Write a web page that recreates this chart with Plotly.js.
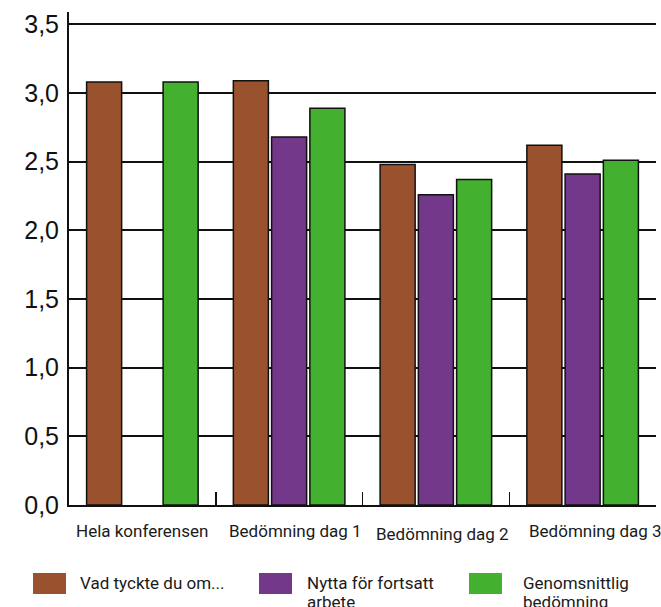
<!DOCTYPE html>
<html>
<head>
<meta charset="utf-8">
<script src="https://cdn.plot.ly/plotly-3.0.1.min.js"></script>
<style>html,body{margin:0;padding:0;background:#fff}#chart{width:661px;height:607px}</style>
</head>
<body>
<div id="chart"></div>
<script>
const categories = ["Hela konferensen", "Bedömning dag 1", "Bedömning dag 2", "Bedömning dag 3"];
const seriesNames = ["Vad tyckte du om...", "Nytta för fortsatt<br>arbete", "Genomsnittlig<br>bedömning"];
const vadTyckte = [3.08, 3.09, 2.48, 2.62];
const nytta = [null, 2.68, 2.26, 2.41];
const genomsnitt = [3.08, 2.89, 2.37, 2.51];
const yTickVals = [0, 0.5, 1, 1.5, 2, 2.5, 3, 3.5];
const colors = ["#99522D", "#74388A", "#43B02F"];

const series = [vadTyckte, nytta, genomsnitt];
const traces = series.map((vals, i) => ({
  type: "bar",
  x: categories,
  y: vals,
  name: seriesNames[i],
  marker: {color: colors[i], line: {color: "#111", width: 1.5}},
  showlegend: false,
  hoverinfo: "none"
}));

const textFont = {family: "Roboto, Liberation Sans, sans-serif", size: 17, color: "#1a1a1a"};

// category labels as annotations (slightly offset as in the original)
const labelXShift = [0, 6, 7, 13];
const labelYShift = [0, 0, -3, 0];
const annotations = categories.map((c, i) => ({
  xref: "x", yref: "paper", x: c, y: -0.052,
  xanchor: "center", yanchor: "middle", showarrow: false,
  xshift: labelXShift[i], yshift: labelYShift[i],
  text: c, font: textFont
}));

// legend built as shapes + annotations (large swatches)
const legSwatchX = [-0.0613, 0.3237, 0.6814];
const legTextX = [0.0153, 0.402, 0.770];
const shapes = [];
legSwatchX.forEach((lx, i) => {
  shapes.push({type: "rect", xref: "paper", yref: "paper",
    x0: lx, x1: lx + 0.0562, y0: -0.138, y1: -0.1805,
    fillcolor: colors[i], line: {width: 0}});
  seriesNames[i].split("<br>").forEach((line, k) => {
    annotations.push({xref: "paper", yref: "paper", x: legTextX[i], y: -0.133,
      yshift: -19 * k,
      xanchor: "left", yanchor: "top", align: "left", showarrow: false,
      text: line, font: textFont});
  });
});

const layout = {
  width: 661, height: 607,
  margin: {l: 69, r: 5, t: 12, b: 102},
  paper_bgcolor: "#fff", plot_bgcolor: "#fff",
  separators: ", ",
  barmode: "group",
  bargap: 0.218,
  bargroupgap: 0.084,
  xaxis: {
    type: "category",
    range: [-0.5, 3.5], autorange: false,
    showline: true, linecolor: "#111", linewidth: 2,
    ticks: "inside", tickson: "boundaries", ticklen: 13, tickwidth: 1.5, tickcolor: "#111",
    showgrid: false,
    showticklabels: false,
    automargin: false
  },
  yaxis: {
    range: [0, 3.59], autorange: false,
    tickvals: yTickVals,
    tickformat: ".1f",
    showline: true, linecolor: "#111", linewidth: 2,
    showgrid: true, gridcolor: "#111", gridwidth: 2,
    zeroline: false,
    ticks: "", ticklen: 0,
    ticklabelstandoff: 3,
    tickfont: {family: "Liberation Sans, Arial, sans-serif", size: 25, color: "#111"},
    automargin: false
  },
  shapes: shapes,
  annotations: annotations
};

Plotly.newPlot("chart", traces, layout, {displayModeBar: false, staticPlot: true});
</script>
</body>
</html>
